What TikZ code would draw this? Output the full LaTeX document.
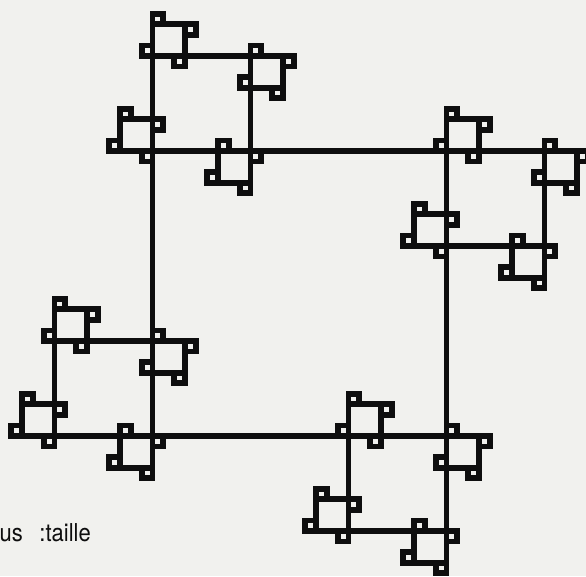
\documentclass[tikz,border=0pt]{standalone}
\usepackage{fontspec}
\setmainfont{TeX Gyre Heros}
\definecolor{paper}{HTML}{F1F1EE}
\definecolor{ink}{HTML}{0E0E0E}
\tikzset{pinline/.style={draw=ink, line width=5.8pt, line join=miter}}

% Pinwheel square fractal.
% #1 depth, (#2,#3) first corner, (#4,#5) first edge, (#6,#7) second edge.
% At every corner a square a third of the size is attached, turning the same way.
\newcommand\pinsq[7]{%
  \begingroup
  \pgfmathsetmacro\pqax{#2}\pgfmathsetmacro\pqay{#3}%
  \pgfmathsetmacro\pqux{#4}\pgfmathsetmacro\pquy{#5}%
  \pgfmathsetmacro\pqvx{#6}\pgfmathsetmacro\pqvy{#7}%
  \pgfmathsetmacro\pqbx{\pqax+\pqux}\pgfmathsetmacro\pqby{\pqay+\pquy}%
  \pgfmathsetmacro\pqcx{\pqbx+\pqvx}\pgfmathsetmacro\pqcy{\pqby+\pqvy}%
  \pgfmathsetmacro\pqdx{\pqax+\pqvx}\pgfmathsetmacro\pqdy{\pqay+\pqvy}%
  \draw[pinline] (\pqax,\pqay) -- (\pqbx,\pqby) -- (\pqcx,\pqcy) -- (\pqdx,\pqdy) -- cycle;
  \ifnum#1>0
    \pgfmathsetmacro\pqlev{int(#1-1)}%
    \pgfmathsetmacro\pqsux{\pqux/3}\pgfmathsetmacro\pqsuy{\pquy/3}%
    \pgfmathsetmacro\pqsvx{\pqvx/3}\pgfmathsetmacro\pqsvy{\pqvy/3}%
    \pinsq{\pqlev}{\pqax-(\pqsvx)}{\pqay-(\pqsvy)}{\pqsux}{\pqsuy}{\pqsvx}{\pqsvy}%
    \pinsq{\pqlev}{\pqbx+(\pqsux)}{\pqby+(\pqsuy)}{\pqsvx}{\pqsvy}{-(\pqsux)}{-(\pqsuy)}%
    \pinsq{\pqlev}{\pqcx+(\pqsvx)}{\pqcy+(\pqsvy)}{-(\pqsux)}{-(\pqsuy)}{-(\pqsvx)}{-(\pqsvy)}%
    \pinsq{\pqlev}{\pqdx-(\pqsux)}{\pqdy-(\pqsuy)}{-(\pqsvx)}{-(\pqsvy)}{\pqsux}{\pqsuy}%
  \fi
  \endgroup}

\begin{document}
\begin{tikzpicture}[x=1pt, y=-1pt]
  \fill[paper] (0,0) rectangle (586,576);
  \useasboundingbox (0,0) rectangle (586,576);
  \pinsq{3}{152.5}{151}{294}{0}{0}{285}
  \node[anchor=base west, inner sep=0pt, text=ink,
        font=\fontsize{22}{26}\selectfont] (caption) at (-0.5,541.5)
        {\scalebox{1}[1.12]{us\hspace{16.5pt}:taille}};
\end{tikzpicture}
\end{document}
